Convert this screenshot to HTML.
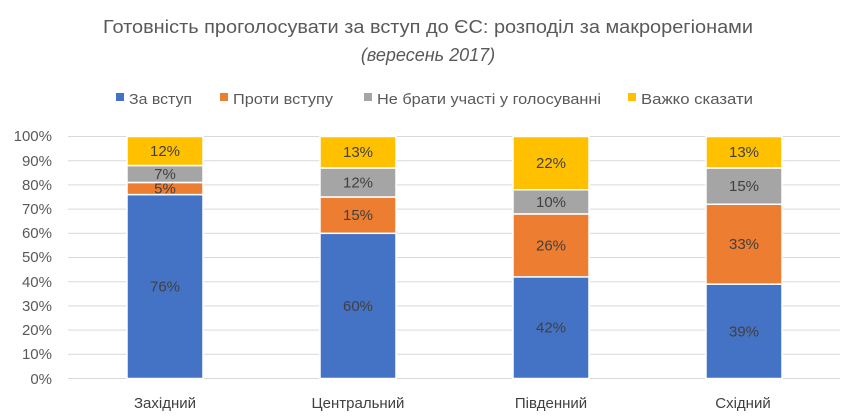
<!DOCTYPE html>
<html><head><meta charset="utf-8"><style>
body{margin:0;background:#fff}
svg{display:block;font-family:"Liberation Sans","DejaVu Sans",sans-serif}
</style></head><body>
<svg width="856" height="420" viewBox="0 0 856 420" xmlns="http://www.w3.org/2000/svg">
<rect width="856" height="420" fill="#fff"/>
<text x="428" y="33" text-anchor="middle" font-size="18" fill="#595959" textLength="650" lengthAdjust="spacingAndGlyphs">Готовність проголосувати за вступ до ЄС: розподіл за макрорегіонами</text>
<text x="428" y="61" text-anchor="middle" font-size="18" font-style="italic" fill="#595959">(вересень 2017)</text>
<g font-size="15" fill="#595959">
<rect x="116" y="93" width="8" height="8" fill="#4472c4"/><text x="129" y="104" textLength="63" lengthAdjust="spacingAndGlyphs">За вступ</text>
<rect x="220" y="93" width="8" height="8" fill="#ed7d31"/><text x="233" y="104" textLength="100" lengthAdjust="spacingAndGlyphs">Проти вступу</text>
<rect x="364" y="93" width="8" height="8" fill="#a5a5a5"/><text x="377" y="104" textLength="224" lengthAdjust="spacingAndGlyphs">Не брати участі у голосуванні</text>
<rect x="628" y="93" width="8" height="8" fill="#ffc000"/><text x="641" y="104" textLength="112" lengthAdjust="spacingAndGlyphs">Важко сказати</text>
</g>
<g stroke="#d9d9d9" stroke-width="1">
<line x1="68" x2="840" y1="136.5" y2="136.5"/><line x1="68" x2="840" y1="160.7" y2="160.7"/>
<line x1="68" x2="840" y1="184.9" y2="184.9"/><line x1="68" x2="840" y1="209.1" y2="209.1"/>
<line x1="68" x2="840" y1="233.3" y2="233.3"/><line x1="68" x2="840" y1="257.5" y2="257.5"/>
<line x1="68" x2="840" y1="281.7" y2="281.7"/><line x1="68" x2="840" y1="305.9" y2="305.9"/>
<line x1="68" x2="840" y1="330.1" y2="330.1"/><line x1="68" x2="840" y1="354.3" y2="354.3"/>
<line x1="68" x2="840" y1="378.5" y2="378.5"/>
</g>
<g font-size="15" fill="#595959" text-anchor="end">
<text x="52" y="141">100%</text><text x="52" y="166">90%</text><text x="52" y="190">80%</text>
<text x="52" y="214">70%</text><text x="52" y="238">60%</text><text x="52" y="262">50%</text>
<text x="52" y="287">40%</text><text x="52" y="311">30%</text><text x="52" y="335">20%</text>
<text x="52" y="359">10%</text><text x="52" y="384">0%</text>
</g>
<g id="bars" stroke="#fff" stroke-width="1.5"></g>
<g id="labels" font-size="15" fill="#404040" text-anchor="middle"></g>
<g font-size="15" fill="#404040" text-anchor="middle">
<text x="165" y="408">Західний</text><text x="358" y="408">Центральний</text>
<text x="551" y="408">Південний</text><text x="743" y="408">Східний</text>
</g>
<script>
var data=[[127,[76,5,7,12]],[320,[60,15,12,13]],[513,[42,26,10,22]],[706,[39,33,15,13]]];
var cols=["#4472c4","#ed7d31","#a5a5a5","#ffc000"];
var bars=document.getElementById("bars"),labs=document.getElementById("labels"),ns="http://www.w3.org/2000/svg";
data.forEach(function(d){var x=d[0],cum=0;d[1].forEach(function(v,i){
var y1=378.5-(cum+v)*2.42,y0=378.5-cum*2.42;cum+=v;
var r=document.createElementNS(ns,"rect");r.setAttribute("x",x);r.setAttribute("y",y1);r.setAttribute("width",76);r.setAttribute("height",y0-y1);r.setAttribute("fill",cols[i]);bars.appendChild(r);
var t=document.createElementNS(ns,"text");t.setAttribute("x",x+38);t.setAttribute("y",(y0+y1)/2+5);t.textContent=v+"%";labs.appendChild(t);});});
</script>
</svg>
</body></html>
